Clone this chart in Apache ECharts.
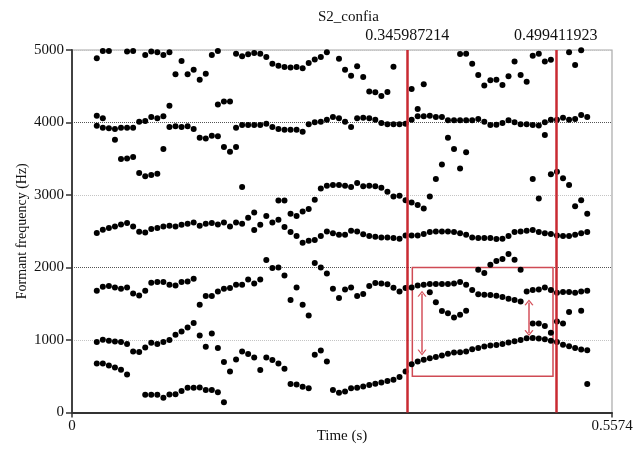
<!DOCTYPE html>
<html>
<head>
<meta charset="utf-8">
<script src="https://cdn.jsdelivr.net/npm/echarts@6.0.0/dist/echarts.min.js"></script>
<style>
  html, body { margin: 0; padding: 0; background: #fff; }
  #chart { width: 635px; height: 451px; }
</style>
</head>
<body>
<div id="chart"></div>
<script>
// formant frames (Praat time step), dots per frame listed lowest to highest, Hz
const frameStart = 0.02558
const frameStep = 0.00625
const f1 = [676, 676, 649, 621, 589, 524, 842, 833, 245, 245,
  245, 205, 249, 252, 297, 340, 340, 345, 310, 310,
  278, 140, 566, 731, 842, 806, 759, 585, 759, 723,
  676, 603, 392, 386, 355, 336, 796, 856, 704, 311,
  274, 290, 333, 343, 360, 378, 396, 414, 433, 451,
  488, 564, 665, 704, 727, 748, 766, 785, 810, 826,
  831, 840, 872, 890, 911, 923, 932, 945, 965, 983,
  1000, 1024, 1028, 1019, 1010, 991, 973, 936, 913, 890,
  868, 392]
const f2 = [971, 1003, 989, 980, 971, 944, 1642, 1615, 897, 962,
  944, 971, 999, 1072, 1118, 1173, 1234, 1063, 907, 1090,
  889, 695, 1717, 1762, 1762, 1836, 1781, 1836, 2103, 1992,
  2001, 1891, 1551, 1725, 1486, 1339, 2062, 2001, 1918, 1707,
  1578, 1697, 1725, 1606, 1633, 1746, 1787, 1778, 1770, 1720,
  1668, 1716, 1725, 1753, 1762, 1660, 1520, 1400, 1370, 1310,
  1350, 1405, 1690, 1630, 1625, 1620, 1610, 1593, 1569, 1551,
  1532, 1670, 1229, 1229, 1192, 1100, 1256, 1229, 1385, 1652,
  1403, 858]
const f3 = [1680, 1735, 1744, 1725, 1707, 1725, 2567, 2494, 1680, 1790,
  1799, 1799, 1762, 1753, 1799, 1808, 1845, 1486, 1606, 1606,
  1670, 1707, 2565, 2622, 2604, 2687, 2517, 2590, 2711, 2620,
  2659, 2559, 2489, 2434, 2342, 2370, 2379, 2434, 2498, 2471,
  2452, 2452, 2507, 2498, 2457, 2434, 2425, 2415, 2415, 2406,
  2397, 2443, 2443, 2443, 2462, 1771, 1771, 1771, 1771, 1781,
  1799, 1762, 2415, 1969, 1923, 2038, 2090, 2117, 2186, 2107,
  1969, 2507, 1689, 1697, 1725, 1689, 1652, 1661, 1661, 2452,
  1670, 1679]
const f4 = [2475, 2521, 2544, 2567, 2594, 2613, 3524, 3304, 2484, 2531,
  2544, 2567, 2576, 2567, 2590, 2604, 2622, 2576, 2604, 2613,
  2594, 2622, 3598, 3662, 3110, 3966, 2760, 3966, 3984, 3938,
  2925, 2925, 2742, 2711, 2774, 2807, 2935, 3091, 3128, 3138,
  3138, 3128, 3110, 3165, 3119, 3128, 3119, 3101, 3046, 2981,
  2990, 2926, 2898, 2862, 2815, 2489, 2498, 2498, 2498, 2489,
  2471, 2452, 4030, 2406, 2406, 2406, 2392, 2397, 2434, 2489,
  2498, 3975, 2517, 2489, 2471, 2462, 2443, 2434, 2434, 2844,
  2471, 2489]
const f5 = [3956, 3929, 3919, 3763, 3497, 3505, 3929, 4012, 3257, 3276,
  3294, 3635, 3938, 3947, 3938, 3947, 3911, 3791, 3781, 3818,
  3809, 3662, 4288, 3929, 3966, 4940, 3966, 4950, 4904, 4812,
  3911, 3901, 3901, 3901, 3873, 3975, 4002, 4012, 4039, 4076,
  4057, 4012, 3938, 4057, 4065, 4057, 4039, 3993, 3975, 3975,
  3975, 3984, 4039, 4085, 4085, 2981, 3221, 3422, 3791, 3635,
  3367, 3588, 4812, 4048, 4012, 3966, 3970, 3993, 4030, 4002,
  3975, 4563, 3221, 2953, 3828, 3285, 3322, 3230, 3138, 4048,
  2926, 2742]
const f6 = [4094, 4057, 4987, 3911, 3929, 3929, 4987, null, 4021, 4076,
  4057, 4085, 4232, 4664, 4849, 4664, 4729, 4591, 4674, 4932,
  4250, 4288, null, 4950, 4913, null, 4959, null, null, null,
  4784, 4766, 4757, 4766, 4750, 4821, 4870, 4904, 4968, null,
  4880, 4729, 4646, 4775, 4628, 4428, 4416, 4365, 4420, 4770,
  null, null, 4463, 4187, 4526, 4094, 4076, 4076, 4030, 4030,
  4030, 4030, null, 4656, 4510, 4582, 4591, 4518, 4637, 4840,
  4656, null, 3966, 3957, 4002, 4039, 4039, 4067, 4039, 4794,
  4104, 4076]
const f7 = [4885, 4987, null, null, null, 4978, null, null, 4932, 4978,
  4968, 4932, 4968, null, null, null, null, null, null, null,
  4987, null, null, null, null, null, null, null, null, null,
  null, null, null, null, null, null, null, null, null, null,
  null, null, null, null, null, null, null, null, null, null,
  null, null, null, null, null, null, null, null, null, null,
  4945, 4950, null, null, null, null, null, null, null, null,
  null, null, 4922, 4950, 4840, 4867, null, null, 4968, null,
  4995, null]

const xTicks = [0, 0.5574]
const markTimes = [0.345987214, 0.499411923]
const markLabels = ['0.345987214', '0.499411923']
const boxTimes = [0.3513, 0.4965]
const boxFreqs = [500, 2000]
const arrowTimes = [0.3613, 0.4717]
const arrowLow = [828, 1096]
const arrowHigh = [1638, 1518]

const serif = 'Liberation Serif'
const dots = []
;[f1, f2, f3, f4, f5, f6, f7].forEach(col => {
  col.forEach((v, i) => {
    if (v !== null) dots.push([frameStart + i * frameStep, v])
  })
})

const chevron = 'path://M0,10L5,0L10,10L8.6,10.6L5,3.2L1.4,10.6Z'
const lineMarks = markTimes.map((t, i) => ({
  xAxis: t,
  lineStyle: { color: '#c92a32', width: 2.5, type: 'solid' },
  label: {
    show: true,
    position: 'end',
    distance: 6,
    formatter: markLabels[i],
    color: '#111',
    fontFamily: serif,
    fontSize: 16
  }
}))
const arrowMarks = arrowTimes.map((t, i) => [
  { coord: [t, arrowHigh[i]], symbol: chevron, symbolSize: [9, 6] },
  { coord: [t, arrowLow[i]], symbol: chevron, symbolSize: [9, 6] }
])
arrowMarks.forEach(a => {
  a[0].lineStyle = { color: '#d4515b', width: 1.5, type: 'solid' }
  a[0].label = { show: false }
})

const myChart = echarts.init(document.getElementById('chart'), null, { renderer: 'canvas' })
myChart.setOption({
  animation: false,
  title: {
    text: 'S2_confia',
    left: 313,
    top: 5,
    textStyle: { fontFamily: serif, fontSize: 15, fontWeight: 'normal', color: '#111' }
  },
  grid: {
    left: 72, right: 23, top: 50, bottom: 38.5,
    show: true, borderColor: '#a8a8a8', borderWidth: 1.2,
    containLabel: false, outerBoundsMode: 'none'
  },
  xAxis: {
    type: 'value',
    min: xTicks[0],
    max: xTicks[1],
    interval: xTicks[1] - xTicks[0],
    name: 'Time (s)',
    nameLocation: 'middle',
    nameGap: 16,
    nameMoveOverlap: false,
    nameTextStyle: { fontFamily: serif, fontSize: 15, color: '#111' },
    axisLine: { show: true, onZero: false, lineStyle: { color: '#333', width: 1.8 } },
    axisTick: { show: true, length: 5, lineStyle: { color: '#333', width: 1.5 } },
    axisLabel: {
      fontFamily: serif, fontSize: 15, color: '#111', margin: 6,
      showMinLabel: true, showMaxLabel: true,
      formatter: v => (v === 0 ? '0' : '0.5574')
    },
    splitLine: { show: false }
  },
  yAxis: {
    type: 'value',
    min: 0,
    max: 5000,
    interval: 1000,
    name: 'Formant frequency (Hz)',
    nameLocation: 'middle',
    nameGap: 43,
    nameMoveOverlap: false,
    nameTextStyle: { fontFamily: serif, fontSize: 14, color: '#111' },
    axisLine: { show: true, lineStyle: { color: '#333', width: 1.8 } },
    axisTick: { show: true, length: 6, lineStyle: { color: '#333', width: 1.5 } },
    axisLabel: {
      fontFamily: serif, fontSize: 15, color: '#111', margin: 8,
      formatter: v => String(v)
    },
    splitLine: {
      show: true,
      lineStyle: { type: 'dotted', width: 1, color: ['#555', '#c4c4c4'] }
    }
  },
  series: [
    {
      type: 'scatter',
      data: dots,
      symbol: 'circle',
      symbolSize: 6,
      itemStyle: { color: '#000', opacity: 1 },
      silent: true,
      markArea: {
        silent: true,
        itemStyle: { color: 'rgba(0,0,0,0)', borderColor: '#cf4a54', borderWidth: 1.5 },
        data: [[
          { coord: [boxTimes[0], boxFreqs[1]] },
          { coord: [boxTimes[1], boxFreqs[0]] }
        ]]
      },
      markLine: {
        silent: true,
        symbol: 'none',
        animation: false,
        precision: 9,
        label: { show: false },
        data: lineMarks.concat(arrowMarks)
      }
    }
  ]
})
</script>
</body>
</html>
